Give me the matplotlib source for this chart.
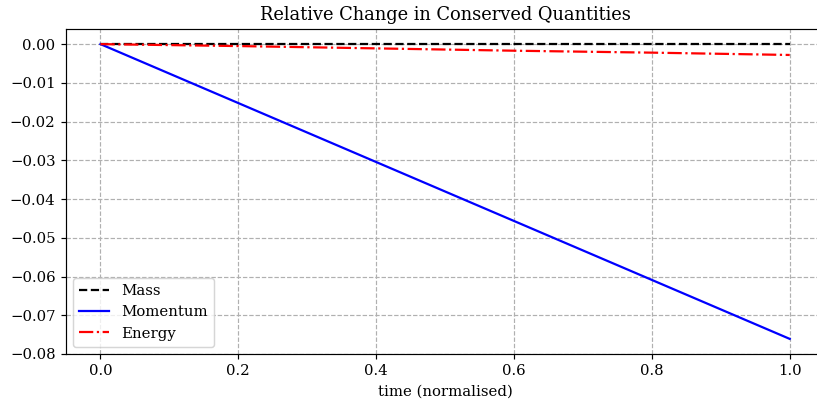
import matplotlib
matplotlib.use("Agg")
import matplotlib.pyplot as plt
import numpy as np

# relative change of each conserved quantity over normalised time
time = [0.0, 0.2, 0.4, 0.6, 0.8, 1.0]
mass = [0.0, 0.0, 0.0, 0.0, 0.0, 0.0]
momentum = [0.0, -0.01522, -0.03044, -0.04566, -0.06088, -0.0761]
energy = [0.0, -0.0005, -0.0011, -0.0017, -0.0022, -0.0028]

plt.rcParams['font.family'] = 'DejaVu Serif'

DPI = 107
fig = plt.figure(figsize=(817 / DPI, 403 / DPI), dpi=DPI)
ax = fig.add_axes([0.0808, 0.1216, 0.928, 0.8064])

ax.plot(time, mass, 'k--', label='Mass')
ax.plot(time, momentum, 'b-', label='Momentum')
ax.plot(time, energy, 'r-.', label='Energy')

ax.set_ylim(-0.080, 0.0039)
ax.set_title('Relative Change in Conserved Quantities')
ax.set_xlabel('time (normalised)')
ax.grid(True, linestyle='--', color='#b0b0b0')
ax.legend(loc='lower left')

fig.savefig('out.png', dpi=DPI)
